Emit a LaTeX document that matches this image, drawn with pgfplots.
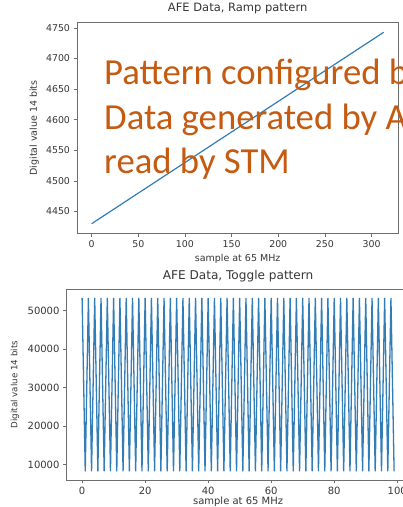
\documentclass[border=0pt]{standalone}
\usepackage{fontspec}
\setmainfont{DejaVu Sans}
\newfontfamily\calibri{Carlito}
\usepackage{pgfplots}
\usepackage{pgfplotstable}
\pgfplotsset{compat=1.18}

\definecolor{mplblue}{RGB}{50,125,182}
\definecolor{slide}{RGB}{197,90,17}
\definecolor{spine}{RGB}{110,110,110}
\definecolor{labelc}{RGB}{55,55,55}

% toggle pattern: even samples high, odd samples low
\pgfplotstableread{
x y
0 53330
1 8190
2 53330
3 8190
4 53330
5 8190
6 53330
7 8190
8 53330
9 8190
10 53330
11 8190
12 53330
13 8190
14 53330
15 8190
16 53330
17 8190
18 53330
19 8190
20 53330
21 8190
22 53330
23 8190
24 53330
25 8190
26 53330
27 8190
28 53330
29 8190
30 53330
31 8190
32 53330
33 8190
34 53330
35 8190
36 53330
37 8190
38 53330
39 8190
40 53330
41 8190
42 53330
43 8190
44 53330
45 8190
46 53330
47 8190
48 53330
49 8190
50 53330
51 8190
52 53330
53 8190
54 53330
55 8190
56 53330
57 8190
58 53330
59 8190
60 53330
61 8190
62 53330
63 8190
64 53330
65 8190
66 53330
67 8190
68 53330
69 8190
70 53330
71 8190
72 53330
73 8190
74 53330
75 8190
76 53330
77 8190
78 53330
79 8190
80 53330
81 8190
82 53330
83 8190
84 53330
85 8190
86 53330
87 8190
88 53330
89 8190
90 53330
91 8190
92 53330
93 8190
94 53330
95 8190
96 53330
97 8190
98 53330
99 8190
}\toggledata

\pgfplotsset{
  mpl/.style={
    scale only axis, anchor=south west,
    axis line style={spine, line width=0.8pt},
    tick style={spine, line width=0.8pt},
    tick align=outside, major tick length=3.5pt, tick pos=left,
    ticklabel style={labelc},
    /pgf/number format/assume math mode=true,
    /pgf/number format/1000 sep={},
    scaled ticks=false,
    label style={labelc},
    title style={labelc},
  }
}

\begin{document}
\begin{tikzpicture}
\useasboundingbox (0,0) rectangle (403pt,507pt);
\clip (0,0) rectangle (403pt,507pt);
\fill[white] (0,0) rectangle (403pt,507pt);

\begin{axis}[mpl,
  at={(77pt,273.7pt)}, width=321.3pt, height=210.6pt,
  xmin=-15.65, xmax=328.65, ymin=4414.35, ymax=4758.65,
  xtick={0,50,...,300}, ytick={4450,4500,...,4750},
  ticklabel style={font=\fontsize{9.4}{11}\selectfont},
  title={AFE Data, Ramp pattern},
  title style={font=\fontsize{11.5}{13}\selectfont, at={(axis description cs:0.5,1.038)}, anchor=center},
  xlabel={sample at 65 MHz},
  xlabel style={font=\fontsize{9.5}{11}\selectfont, at={(axis description cs:0.5,-0.122)}, anchor=center},
  ylabel={Digital value 14 bits},
  ylabel style={font=\fontsize{9.5}{11}\selectfont, at={(axis description cs:-0.133,0.5)}, anchor=center},
]
\addplot[mplblue, line width=1.2pt] coordinates {(0,4430) (313,4743)};
\end{axis}

\begin{axis}[mpl,
  at={(66.5pt,27pt)}, width=343.2pt, height=190.7pt,
  xmin=-4.95, xmax=103.95, ymin=5933, ymax=55587,
  xtick={0,20,...,100}, ytick={10000,20000,...,50000},
  ticklabel style={font=\fontsize{10}{12}\selectfont},
  title={AFE Data, Toggle pattern},
  title style={font=\fontsize{12.1}{14}\selectfont, at={(axis description cs:0.5,1.04)}, anchor=center},
  xlabel={sample at 65 MHz},
  xlabel style={font=\fontsize{10}{12}\selectfont, at={(axis description cs:0.5,-0.113)}, anchor=center},
  ylabel={Digital value 14 bits},
  ylabel style={font=\fontsize{8.7}{10}\selectfont, at={(axis description cs:-0.15,0.5)}, anchor=center},
]
\addplot[mplblue, line width=1.3pt] table[x=x, y=y] {\toggledata};
\end{axis}

\node[anchor=base west, inner sep=0pt, text=slide, font=\calibri\fontsize{36.7}{44}\selectfont] at (104pt,422pt) {Pattern configured by};
\node[anchor=base west, inner sep=0pt, text=slide, font=\calibri\fontsize{36.7}{44}\selectfont] at (104pt,377pt) {Data generated by AFE};
\node[anchor=base west, inner sep=0pt, text=slide, font=\calibri\fontsize{36.7}{44}\selectfont] at (104pt,333.7pt) {read by STM};
\end{tikzpicture}
\end{document}
